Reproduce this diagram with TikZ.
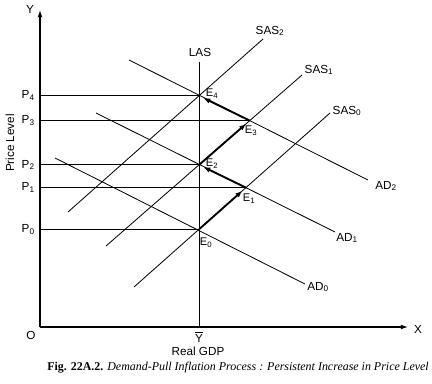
\documentclass[tikz,border=0pt]{standalone}
\usepackage{fontspec}
\setmainfont{Liberation Sans}
\newfontfamily\capfont{Liberation Serif}
\usetikzlibrary{positioning,calc,arrows.meta}

\begin{document}
\begin{tikzpicture}[x=0.03cm,y=-0.03cm,font=\fontsize{10}{12}\selectfont,
  curve/.style={line width=0.7pt},
  axis/.style={line width=0.9pt,-{Latex[length=6pt,width=4pt]}},
  move/.style={line width=1.6pt,-{Latex[length=6pt,width=4.5pt]},shorten >=4pt},
  elabel/.style={font=\fontsize{9.5}{11}\selectfont}]
\useasboundingbox (0,0) rectangle (432,383);
% axes
\coordinate (O) at (40,327);
\coordinate (ytop) at (40,10);
\coordinate (xend) at (408,327);
\draw[axis] (O)--(ytop);
\draw[axis] (O)--(xend);
\node (Y) at (30,9) {Y};
\node (X) at (418,329) {X};
\node (o) at (31,335) {O};
\node[rotate=90] (plevel) at (10,143) {Price Level};
% curve ends
\coordinate (las1) at (199,62);
\coordinate (las2) at (199,327);
\coordinate (s0a) at (134,287); \coordinate (s0b) at (330,113);
\coordinate (s1a) at (106,246); \coordinate (s1b) at (302,75);
\coordinate (s2a) at (68,212);  \coordinate (s2b) at (263,39);
\coordinate (d0a) at (55,158);  \coordinate (d0b) at (305,284);
\coordinate (d1a) at (96,113);  \coordinate (d1b) at (335,232);
\coordinate (d2a) at (129,60);  \coordinate (d2b) at (368,180);
\draw[curve] (las1)--(las2);
\draw[curve] (s0a)--(s0b);
\draw[curve] (s1a)--(s1b);
\draw[curve] (s2a)--(s2b);
\draw[curve] (d0a)--(d0b);
\draw[curve] (d1a)--(d1b);
\draw[curve] (d2a)--(d2b);
\node (LAS) at (200,52) {LAS};
\node (SAS2) at (270,31) {SAS\textsubscript{2}};
\node (SAS1) at (319,70) {SAS\textsubscript{1}};
\node (SAS0) at (347,111) {SAS\textsubscript{0}};
\node (AD2) at (386,186) {AD\textsubscript{2}};
\node (AD1) at (347,238) {AD\textsubscript{1}};
\node (AD0) at (318,287) {AD\textsubscript{0}};
% equilibria
\coordinate (E0) at (intersection of las1--las2 and s0a--s0b);
\coordinate (E1) at (intersection of s0a--s0b and d1a--d1b);
\coordinate (E2) at (intersection of las1--las2 and s1a--s1b);
\coordinate (E3) at (intersection of s1a--s1b and d2a--d2b);
\coordinate (E4) at (intersection of las1--las2 and s2a--s2b);
\node[elabel] at (206,243) {E\textsubscript{0}};
\node[elabel] at (249,199) {E\textsubscript{1}};
\node[elabel] at (212,164) {E\textsubscript{2}};
\node[elabel] at (251,131) {E\textsubscript{3}};
\node[elabel] at (212,94) {E\textsubscript{4}};
% price levels
\draw[curve] (E0 -| O)--(E0);
\draw[curve] (E1 -| O)--(E1);
\draw[curve] (E2 -| O)--(E2);
\draw[curve] (E3 -| O)--(E3);
\draw[curve] (E4 -| O)--(E4);
\node[left=1pt] (P0) at (E0 -| O) {P\textsubscript{0}};
\node[left=1pt] (P1) at (E1 -| O) {P\textsubscript{1}};
\node[left=1pt] (P2) at (E2 -| O) {P\textsubscript{2}};
\node[left=1pt] (P3) at (E3 -| O) {P\textsubscript{3}};
\node[left=1pt] (P4) at (E4 -| O) {P\textsubscript{4}};
% path of inflation
\draw[move] (E0)--(E1);
\draw[move] (E1)--(E2);
\draw[move] (E2)--(E3);
\draw[move] (E3)--(E4);
\node (Ybar) at (199,337) {$\overline{\mbox{Y}}$};
\node (gdp) at (198,351) {Real GDP};
\node (cap) at (238,368) {\capfont\fontsize{10.2}{12}\selectfont\textbf{Fig. 22A.2.} \textit{Demand-Pull Inflation Process : Persistent Increase in Price Level}};
\end{tikzpicture}
\end{document}
